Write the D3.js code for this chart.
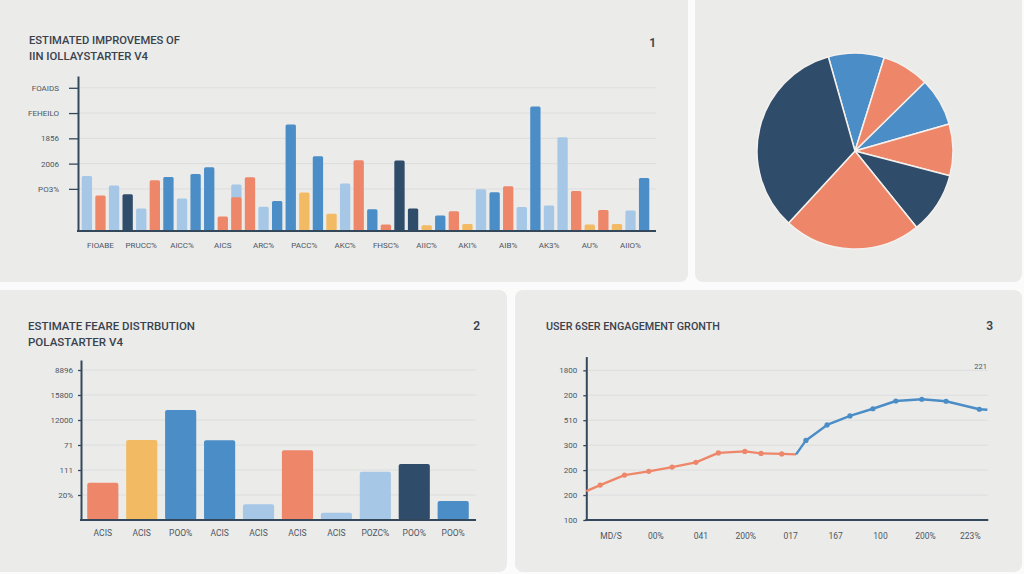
<!DOCTYPE html>
<html><head><meta charset="utf-8">
<script src="https://cdn.jsdelivr.net/npm/d3@7"></script>
<style>
body{margin:0;background:#fbfbfb;}
svg{display:block;font-family:Roboto,"Liberation Sans",sans-serif;}
</style>
</head><body>
<svg id="c" width="1024" height="574"></svg>
<script>
// ---------------- DATA ----------------
// Panel 1: bar chart (14 groups x 3 bars)
const tlGroups = ["FIOABE","PRUCC%","AICC%","AICS","ARC%","PACC%","AKC%","FHSC%","AIIC%","AKI%","AIB%","AK3%","AU%","AIIO%"];
const tlValues = [32.7,21.0,27.0, 21.8,13.3,30.1, 32.1,19.3,33.9, 37.8,8.6,20.0,
                  31.9,14.4,17.8, 63.2,22.8,44.4, 10.3,28.2,42.0, 12.9,3.8,41.8,
                  13.3,3.4,9.2, 11.7,4.2,24.8, 23.0,26.6,14.3, 73.9,15.1,55.7,
                  23.8,3.8,12.5, 4.2,12.1,31.5];
const tlSeries = ["lb","or","lb", "nv","lb","or", "bl","lb","bl", "bl","or","or",
                  "or","lb","bl", "bl","ye","bl", "ye","lb","or", "bl","or","nv",
                  "nv","ye","bl", "or","ye","lb", "bl","or","lb", "bl","lb","lb",
                  "or","ye","or", "ye","lb","bl"];
const tlGhost = [{index: 11, value: 27.6, series: "lb"}];
const tlTicks = [25, 40, 55, 70, 85];
const tlTickLabels = ["PO3%","2006","1856","FEHEILO","FOAIDS"];
const tlTitle = ["ESTIMATED IMPROVEMES OF","IIN IOLLAYSTARTER V4"];

// Panel 2: pie
const pieValues = [9.2, 7.8, 7.9, 8.5, 10.1, 22.6, 33.7];
const pieSeries = ["bl","or","bl","or","nv","or","nv"];

// Panel 3: bars
const blCategories = ["ACIS","ACIS ","POO%","ACIS  ","ACIS   ","ACIS    ","ACIS     ","POZC%","POO% ","POO%  "];
const blValues = [29.8, 64, 88, 63.8, 12.6, 55.8, 5.8, 38.6, 44.8, 15.2];
const blSeries = ["or","ye","bl","bl","lb","or","lb","lb","nv","bl"];
const blTicks = [20, 40, 60, 80, 100, 120];
const blTickLabels = ["20%","111","71","12000","15800","8896"];
const blTitle = ["ESTIMATE FEARE DISTRBUTION","POLASTARTER V4"];

// Panel 4: line
const brXLabels = ["MD/S","00%","041","200%","017","167","100","200%","223%"];
const brXTicks = [1,2,3,4,5,6,7,8,9];
const orangeX = [0.45,0.76,1.30,1.84,2.36,2.89,3.39,3.98,4.34,4.80,5.12];
const orangeY = [216,240,280,295,312,331,369,375,367,365,363];
const blueX = [5.12,5.34,5.81,6.32,6.83,7.34,7.92,8.46,9.20,9.38];
const blueY = [363,419,481,517,546,577,584,576,544,542];
const brTicks = [100,200,300,400,500,600,700];
const brTickLabels = ["100","200","200","300","510","200","1800"];
const brTitle = "USER 6SER ENGAGEMENT GRONTH";

// ---------------- STYLE ----------------
const colors = {lb:"#a6c8e6", or:"#ee876a", nv:"#2f4d6b", bl:"#4b8dc6", ye:"#f2bb63"};
const axisColor = "#34485c", gridColor = "#dcdddd", textColor = "#4d5661", titleColor = "#39424d";

const svg = d3.select("#c");

// cards
[[-10,-10,698,292],[695,-10,327,292],[-10,290,517,282],[515,290,507,282]].forEach(r=>{
  svg.append("rect").attr("x",r[0]).attr("y",r[1]).attr("width",r[2]).attr("height",r[3])
    .attr("rx",8).attr("fill","#ebebea");
});

function title(lines, x, y0, widths){
  lines.forEach((t,i)=>{
    svg.append("text").attr("x",x).attr("y",y0+i*16).text(t)
      .attr("font-size",11.5).attr("font-weight",500).attr("fill",titleColor)
      .attr("textLength",widths[i]).attr("lengthAdjust","spacingAndGlyphs");
  });
}
function num(t,x,y){
  svg.append("text").attr("x",x).attr("y",y).attr("text-anchor","end").text(t)
    .attr("font-size",12).attr("font-weight",600).attr("fill",titleColor);
}
function styleAxis(g, fs){
  g.select(".domain").attr("stroke",axisColor).attr("stroke-width",2);
  g.selectAll(".tick line").attr("stroke",axisColor).attr("stroke-width",1.3);
  g.selectAll(".tick text").attr("fill",textColor).attr("font-size",fs).attr("font-family","Roboto,sans-serif");
}

// ---------------- PANEL 1 ----------------
title(tlTitle, 29, 44, [151,119]);
num("1", 656, 47);
const tlCats = tlGroups.flatMap(g=>[g+"|1",g+"|2",g+"|3"]);
const xTL = d3.scaleBand().domain(tlCats).range([79,652]).paddingInner(0.24).paddingOuter(0.2);
const yTL = d3.scaleLinear().domain([0,92]).range([231,76]);
svg.append("g").selectAll("line").data(tlTicks).join("line")
  .attr("x1",78).attr("x2",656).attr("y1",d=>yTL(d)).attr("y2",d=>yTL(d))
  .attr("stroke",gridColor).attr("stroke-width",1);
svg.append("g").selectAll("rect").data(tlGhost).join("rect")
  .attr("x",d=>xTL(tlCats[d.index])).attr("width",xTL.bandwidth())
  .attr("y",d=>yTL(d.value)).attr("height",d=>yTL(0)-yTL(d.value))
  .attr("rx",1.5).attr("fill",d=>colors[d.series]);
svg.append("g").selectAll("rect").data(tlValues).join("rect")
  .attr("x",(d,i)=>xTL(tlCats[i])).attr("width",xTL.bandwidth())
  .attr("y",d=>yTL(d)).attr("height",d=>yTL(0)-yTL(d))
  .attr("rx",1.5).attr("fill",(d,i)=>colors[tlSeries[i]]);
const gTLy = svg.append("g").attr("transform","translate(78,0)")
  .call(d3.axisLeft(yTL).tickValues(tlTicks).tickFormat((d,i)=>tlTickLabels[i]).tickSize(9).tickSizeOuter(0).tickPadding(10));
styleAxis(gTLy, 8);
svg.append("line").attr("x1",77).attr("x2",656).attr("y1",yTL(0)).attr("y2",yTL(0))
  .attr("stroke",axisColor).attr("stroke-width",2);
svg.append("g").selectAll("text").data(tlGroups).join("text")
  .attr("x",g=>xTL(g+"|2")+xTL.bandwidth()/2).attr("y",248).attr("text-anchor","middle")
  .attr("font-size",8).attr("fill",textColor).text(g=>g);

// ---------------- PANEL 2 ----------------
const pie = d3.pie().sort(null).startAngle(-15.8*Math.PI/180).endAngle(2*Math.PI-15.8*Math.PI/180);
const arc = d3.arc().innerRadius(0).outerRadius(98);
svg.append("g").attr("transform","translate(855,151)")
  .selectAll("path").data(pie(pieValues)).join("path")
  .attr("d",arc).attr("fill",(d,i)=>colors[pieSeries[i]])
  .attr("stroke","#f4f1ee").attr("stroke-width",1.5).attr("stroke-linejoin","round");

// ---------------- PANEL 3 ----------------
title(blTitle, 28, 330, [167,95]);
num("2", 480, 330);
const xBL = d3.scaleBand().domain(blCategories).range([81,475]).paddingInner(0.2).paddingOuter(0.16);
const yBL = d3.scaleLinear().domain([0,128]).range([520,360]);
svg.append("g").selectAll("line").data(blTicks).join("line")
  .attr("x1",81).attr("x2",476).attr("y1",d=>yBL(d)).attr("y2",d=>yBL(d))
  .attr("stroke",gridColor).attr("stroke-width",1);
svg.append("g").selectAll("rect").data(blValues).join("rect")
  .attr("x",(d,i)=>xBL(blCategories[i])).attr("width",xBL.bandwidth())
  .attr("y",d=>yBL(d)).attr("height",d=>yBL(0)-yBL(d))
  .attr("rx",2).attr("fill",(d,i)=>colors[blSeries[i]]);
const gBLy = svg.append("g").attr("transform","translate(81,0)")
  .call(d3.axisLeft(yBL).tickValues(blTicks).tickFormat((d,i)=>blTickLabels[i]).tickSize(3).tickSizeOuter(0).tickPadding(5));
styleAxis(gBLy, 8);
svg.append("line").attr("x1",80).attr("x2",476).attr("y1",yBL(0)).attr("y2",yBL(0))
  .attr("stroke",axisColor).attr("stroke-width",2);
svg.append("g").selectAll("text").data(blCategories).join("text")
  .attr("x",c=>xBL(c)+xBL.bandwidth()/2).attr("y",536).attr("text-anchor","middle")
  .attr("font-size",8.5).attr("fill",textColor).text(c=>c.trim());

// ---------------- PANEL 4 ----------------
svg.append("text").attr("x",546).attr("y",330).text(brTitle)
  .attr("font-size",11.5).attr("font-weight",500).attr("fill",titleColor)
  .attr("textLength",174).attr("lengthAdjust","spacingAndGlyphs");
num("3", 993, 330);
const xBR = d3.scaleLinear().domain([0.45,9.4]).range([586.3,988.3]);
const yBR = d3.scaleLinear().domain([100,755]).range([520,356.6]);
svg.append("g").selectAll("line").data(brTicks.slice(1)).join("line")
  .attr("x1",586).attr("x2",988).attr("y1",d=>yBR(d)).attr("y2",d=>yBR(d))
  .attr("stroke",gridColor).attr("stroke-width",1);
const gBRy = svg.append("g").attr("transform","translate(586.3,0)")
  .call(d3.axisLeft(yBR).tickValues(brTicks).tickFormat((d,i)=>brTickLabels[i]).tickSize(3).tickSizeOuter(0).tickPadding(6));
styleAxis(gBRy, 8);
svg.append("line").attr("x1",585.3).attr("x2",988.3).attr("y1",yBR(100)).attr("y2",yBR(100))
  .attr("stroke",axisColor).attr("stroke-width",2);
svg.append("text").attr("x",987).attr("y",368.5).attr("text-anchor","end")
  .attr("font-size",7.5).attr("fill",textColor).text("221");
svg.append("g").selectAll("text").data(brXTicks).join("text")
  .attr("x",d=>xBR(d)).attr("y",539).attr("text-anchor","middle")
  .attr("font-size",8.5).attr("fill",textColor).text((d,i)=>brXLabels[i]);
const line = d3.line().x(d=>xBR(d[0])).y(d=>yBR(d[1]));
const orangePts = d3.zip(orangeX, orangeY), bluePts = d3.zip(blueX, blueY);
[[orangePts, colors.or],[bluePts, colors.bl]].forEach(([pts,c])=>{
  svg.append("path").datum(pts).attr("d",line).attr("fill","none")
    .attr("stroke",c).attr("stroke-width",2.4).attr("stroke-linejoin","round");
  svg.append("g").selectAll("circle").data(pts.slice(1,-1)).join("circle")
    .attr("cx",d=>xBR(d[0])).attr("cy",d=>yBR(d[1])).attr("r",2.6).attr("fill",c);
});
</script>
</body></html>
